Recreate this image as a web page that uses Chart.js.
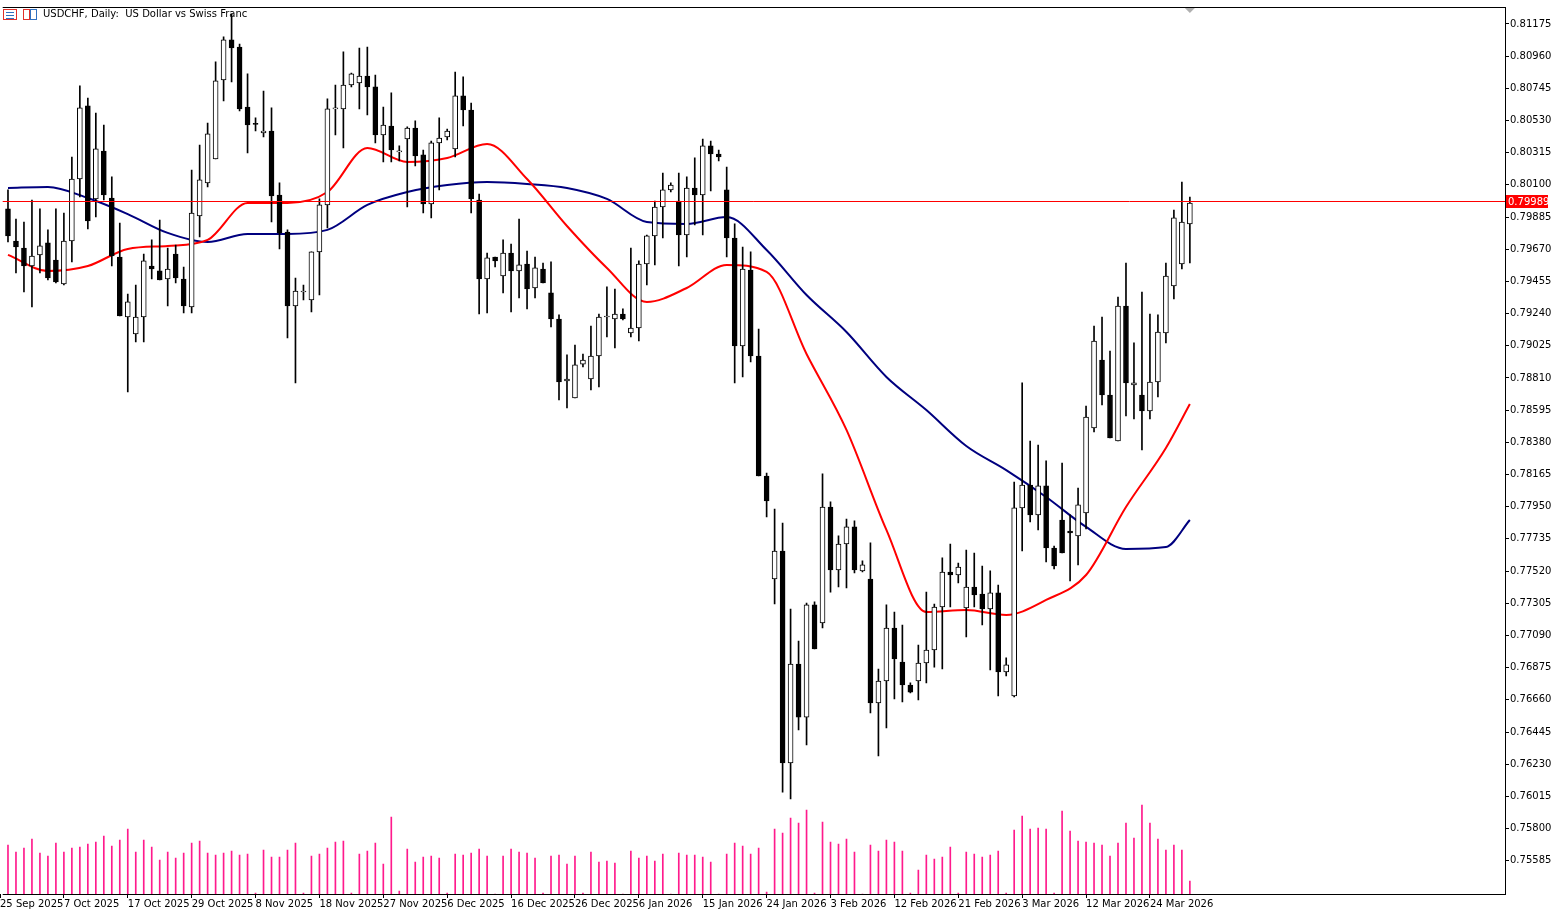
<!DOCTYPE html>
<html><head><meta charset="utf-8">
<script src="https://cdn.jsdelivr.net/npm/chart.js@4.4.1/dist/chart.umd.min.js"></script>
<style>html,body{margin:0;padding:0;background:#fff;overflow:hidden}#wrap{width:1553px;height:910px;position:relative}</style>
</head><body><div id="wrap"><canvas id="c" width="1553" height="910"></canvas></div>
<script>
const symbolTitle = "USDCHF, Daily:  US Dollar vs Swiss Franc";
const currentPrice = 0.79989;
const open = [0.79939,0.79725,0.79678,0.79558,0.79632,0.79712,0.79598,0.79438,0.79725,0.80139,
0.80627,0.80006,0.80326,0.80012,0.79618,0.79217,0.79104,0.79217,0.79558,0.79525,
0.79471,0.79638,0.79471,0.79284,0.79892,0.80113,0.80273,0.80801,0.81068,0.81021,
0.80620,0.80507,0.80447,0.80460,0.80032,0.79785,0.79291,0.79384,0.79331,0.79652,
0.79966,0.80607,0.80607,0.80767,0.80781,0.80827,0.80754,0.80433,0.80493,0.80320,
0.80406,0.80480,0.80300,0.79972,0.80380,0.80420,0.80340,0.80694,0.80600,0.79999,
0.79471,0.79618,0.79491,0.79645,0.79525,0.79571,0.79411,0.79538,0.79378,0.79204,
0.78790,0.78676,0.78903,0.78803,0.78957,0.79217,0.79204,0.79237,0.79111,0.79144,
0.79571,0.79759,0.79952,0.80066,0.79992,0.79765,0.80079,0.80032,0.80360,0.80306,
0.80066,0.79745,0.79024,0.79531,0.78957,0.78155,0.77467,0.77654,0.76238,0.76899,
0.76545,0.77294,0.77173,0.77948,0.77527,0.77701,0.77815,0.77521,0.77467,0.76639,
0.76786,0.77140,0.76913,0.76759,0.76786,0.76906,0.76993,0.77280,0.77514,0.77494,
0.77274,0.77414,0.77367,0.77267,0.77374,0.76846,0.76686,0.77942,0.78095,0.77895,
0.78089,0.77674,0.77861,0.77788,0.77755,0.77908,0.78476,0.78930,0.78696,0.78389,
0.79291,0.78763,0.78696,0.78590,0.78783,0.79111,0.79425,0.79571,0.79839];
const high = [0.80066,0.79872,0.79852,0.79999,0.79939,0.79799,0.79939,0.79912,0.80286,0.80761,
0.80680,0.80580,0.80500,0.80153,0.79845,0.79371,0.79431,0.79638,0.79732,0.79865,
0.79678,0.79698,0.79551,0.80199,0.80366,0.80513,0.80921,0.81088,0.81241,0.81041,
0.80841,0.80547,0.80727,0.80614,0.80113,0.79799,0.79478,0.79431,0.79652,0.80006,
0.80674,0.80767,0.80988,0.80847,0.81014,0.81021,0.80834,0.80620,0.80714,0.80360,
0.80487,0.80527,0.80333,0.80393,0.80547,0.80473,0.80854,0.80821,0.80647,0.80039,
0.79645,0.79618,0.79732,0.79705,0.79872,0.79658,0.79618,0.79578,0.79585,0.79231,
0.78964,0.79030,0.78970,0.79157,0.79237,0.79418,0.79404,0.79271,0.79678,0.79592,
0.79765,0.79992,0.80179,0.80113,0.80179,0.80153,0.80280,0.80406,0.80393,0.80333,
0.80219,0.79839,0.79685,0.79652,0.79137,0.78175,0.77935,0.77841,0.77267,0.77053,
0.77307,0.77314,0.78169,0.77982,0.77755,0.77868,0.77855,0.77588,0.77708,0.76866,
0.77294,0.77247,0.77160,0.76773,0.77026,0.77380,0.77300,0.77608,0.77701,0.77574,
0.77661,0.77641,0.77554,0.77521,0.77427,0.76940,0.78115,0.78777,0.78389,0.78362,
0.78256,0.77687,0.78242,0.77895,0.78075,0.78623,0.79157,0.79217,0.78990,0.79351,
0.79578,0.79044,0.79384,0.79237,0.79231,0.79578,0.79932,0.80119,0.80019];
const low = [0.79718,0.79511,0.79384,0.79284,0.79511,0.79465,0.79445,0.79431,0.79585,0.80019,
0.79805,0.79885,0.79999,0.79558,0.79224,0.78716,0.79050,0.79050,0.79471,0.79465,
0.79291,0.79445,0.79244,0.79244,0.79752,0.80086,0.80273,0.80660,0.80787,0.80594,
0.80313,0.80460,0.80420,0.79852,0.79672,0.79077,0.78777,0.79331,0.79251,0.79364,
0.79812,0.80433,0.80346,0.80754,0.80607,0.80567,0.80380,0.80253,0.80253,0.80260,
0.79952,0.80226,0.79912,0.79879,0.80066,0.80400,0.80286,0.80493,0.79912,0.79237,
0.79244,0.79551,0.79378,0.79251,0.79344,0.79271,0.79344,0.79445,0.79151,0.78663,
0.78610,0.78676,0.78883,0.78730,0.78750,0.79084,0.79010,0.79197,0.79084,0.79057,
0.79431,0.79565,0.79745,0.80052,0.79558,0.79618,0.79832,0.79765,0.80059,0.80260,
0.79618,0.78777,0.78817,0.78917,0.78155,0.77881,0.77300,0.76044,0.75998,0.76459,
0.76358,0.77000,0.77140,0.77380,0.77414,0.77407,0.77507,0.77514,0.76572,0.76285,
0.76472,0.76666,0.76646,0.76706,0.76659,0.76773,0.76879,0.76866,0.77280,0.77441,
0.77080,0.77280,0.77160,0.76859,0.76686,0.76819,0.76679,0.77654,0.77848,0.77795,
0.77581,0.77534,0.77641,0.77454,0.77561,0.77801,0.78449,0.78630,0.78409,0.78389,
0.78556,0.78536,0.78329,0.78536,0.78683,0.79044,0.79338,0.79538,0.79578];
const close = [0.79759,0.79685,0.79558,0.79625,0.79692,0.79478,0.79451,0.79725,0.80139,0.80614,
0.79859,0.80340,0.80032,0.79625,0.79224,0.79318,0.79217,0.79592,0.79538,0.79465,
0.79538,0.79478,0.79291,0.79912,0.80133,0.80440,0.80794,0.81068,0.81014,0.80607,
0.80500,0.80504,0.80460,0.80026,0.79779,0.79291,0.79391,0.79384,0.79652,0.79966,
0.80607,0.80614,0.80767,0.80841,0.80827,0.80754,0.80433,0.80500,0.80333,0.80320,
0.80480,0.80293,0.79972,0.80380,0.80413,0.80460,0.80694,0.80600,0.80006,0.79471,
0.79612,0.79592,0.79645,0.79525,0.79565,0.79404,0.79545,0.79445,0.79204,0.78783,
0.78803,0.78897,0.78930,0.78957,0.79217,0.79224,0.79237,0.79204,0.79144,0.79571,
0.79759,0.79952,0.80066,0.80099,0.79765,0.80079,0.80032,0.80360,0.80306,0.80286,
0.79745,0.79024,0.79538,0.78957,0.78155,0.77988,0.77654,0.76238,0.76899,0.76545,
0.77294,0.77000,0.77948,0.77527,0.77701,0.77815,0.77527,0.77561,0.76639,0.76786,
0.77140,0.76933,0.76759,0.76712,0.76906,0.76993,0.77280,0.77514,0.77494,0.77547,
0.77414,0.77360,0.77267,0.77374,0.76846,0.76893,0.77942,0.78095,0.77895,0.78089,
0.77674,0.77554,0.77641,0.77775,0.77962,0.78549,0.79057,0.78696,0.78409,0.79291,
0.78777,0.78777,0.78590,0.78783,0.79117,0.79491,0.79879,0.79852,0.79979];
const volume = [49,42,46,55,41,38,51,42,46,47,50,52,58,48,54,65,42,54,47,34,
42,36,41,51,53,41,39,41,43,39,40,1,44,37,37,44,51,1,38,40,
46,52,53,1,40,43,51,30,77,3,45,32,37,38,36,1,40,39,41,45,
38,0,38,45,42,41,36,1,38,39,30,38,1,42,32,33,31,0,43,36,
38,33,40,0,41,39,39,37,32,0,40,51,48,40,46,2,65,61,76,71,
84,1,72,52,50,55,42,0,49,43,54,52,43,1,24,39,35,37,47,1,
42,40,37,39,43,1,64,78,65,66,65,1,83,63,53,52,51,49,38,51,
71,56,89,71,55,44,49,44,13];
const maIdx = [0,5,10,15,20,25,30,35,40,45,50,55,60,65,70,75,80,85,90,95,100,105,110,115,120,125,130,135,140,145,148];
const maFast = [0.79632,0.79525,0.79558,0.79672,0.79692,0.79732,0.79979,0.79979,0.80052,0.80346,0.80253,0.80280,0.80373,0.80139,0.79825,0.79545,0.79318,0.79411,0.79565,0.79518,0.78970,0.78463,0.77795,0.77247,0.77260,0.77227,0.77327,0.77494,0.77948,0.78342,0.78636];
const maSlow = [0.80079,0.80086,0.80012,0.79905,0.79779,0.79718,0.79772,0.79772,0.79799,0.79966,0.80052,0.80099,0.80119,0.80106,0.80079,0.80006,0.79852,0.79839,0.79885,0.79665,0.79364,0.79117,0.78817,0.78596,0.78356,0.78195,0.78015,0.77815,0.77668,0.77681,0.77861];
const priceTicks = ["0.81175","0.80960","0.80745","0.80530","0.80315","0.80100","0.79885","0.79670","0.79455","0.79240","0.79025","0.78810","0.78595","0.78380","0.78165","0.77950","0.77735","0.77520","0.77305","0.77090","0.76875","0.76660","0.76445","0.76230","0.76015","0.75800","0.75585"];
const dateIdx = [-1,7,15,23,31,39,47,55,63,71,79,87,95,103,111,119,127,135,143];
const dateLabels = ["25 Sep 2025","7 Oct 2025","17 Oct 2025","29 Oct 2025","8 Nov 2025","18 Nov 2025","27 Nov 2025","6 Dec 2025","16 Dec 2025","26 Dec 2025","6 Jan 2026","15 Jan 2026","24 Jan 2026","3 Feb 2026","12 Feb 2026","21 Feb 2026","3 Mar 2026","12 Mar 2026","24 Mar 2026"];

const n = close.length;
const idx = Array.from({length:n},(_,i)=>i);
const wickData = idx.map(i=>({x:i,y:[low[i],high[i]]}));
const bodyData = idx.map(i=>({x:i,y:[open[i],close[i]]}));
const volData = idx.map(i=>({x:i,y:volume[i]}));
const fastData = maIdx.map((v,k)=>({x:v,y:maFast[k]}));
const slowData = maIdx.map((v,k)=>({x:v,y:maSlow[k]}));
const FONT = {family:"DejaVu Sans",size:10};

const overlay = {
  id:'overlay',
  afterDraw(chart){
    const {ctx,chartArea:a,scales} = chart;
    const y = Math.round(scales.y.getPixelForValue(currentPrice));
    ctx.save();
    ctx.globalAlpha=1;
    ctx.strokeStyle='rgb(255,0,0)';ctx.lineWidth=1;
    ctx.beginPath();ctx.moveTo(a.left,y+0.5);ctx.lineTo(a.right,y+0.5);ctx.stroke();
    ctx.fillStyle='rgb(255,0,0)';
    ctx.fillRect(a.right+1,y-6,42,13);
    ctx.fillStyle='#fff';ctx.font='10px "DejaVu Sans"';ctx.textBaseline='middle';ctx.textAlign='left';
    ctx.fillText(currentPrice.toFixed(5),a.right+3,y+1);
    ctx.fillStyle='#000';
    ctx.fillRect(a.left,a.top,a.right-a.left+1,1);
    ctx.fillRect(a.right,a.top,1,a.bottom-a.top+1);
    ctx.fillRect(a.left,a.bottom,a.right-a.left+1,1);
    ctx.fillStyle='#000';ctx.font='10px "DejaVu Sans"';ctx.textAlign='left';
    ctx.fillText(symbolTitle,43,a.top+7);
    ctx.strokeStyle='#e0302a';ctx.strokeRect(3.5,a.top+2.5,13,10);
    ctx.strokeStyle='#3070c0';
    ctx.beginPath();for(let k=0;k<3;k++){ctx.moveTo(6,a.top+5.5+k*3);ctx.lineTo(14,a.top+5.5+k*3);}ctx.stroke();
    ctx.strokeStyle='#e0302a';ctx.strokeRect(23.5,a.top+2.5,6,10);
    ctx.strokeStyle='#3070c0';ctx.strokeRect(30.5,a.top+2.5,6,10);
    const tx = scales.x.getPixelForValue(n-1);
    ctx.fillStyle='#b0b0b0';ctx.beginPath();ctx.moveTo(tx-5,a.top+1);ctx.lineTo(tx+5,a.top+1);ctx.lineTo(tx,a.top+6);ctx.fill();
    ctx.restore();
  }
};

new Chart(document.getElementById('c'),{
  data:{datasets:[
    {type:'bar',data:volData,yAxisID:'yv',backgroundColor:'#ff1a8c',barThickness:1,grouped:false,order:5},
    {type:'line',data:slowData,borderColor:'#00007f',borderWidth:2,pointRadius:0,cubicInterpolationMode:'monotone',order:4},
    {type:'line',data:fastData,borderColor:'#ff0000',borderWidth:2,pointRadius:0,cubicInterpolationMode:'monotone',order:3},
    {type:'bar',data:wickData,backgroundColor:'#000',barThickness:1,grouped:false,order:2},
    {type:'bar',data:bodyData,grouped:false,order:1,barThickness:5,minBarLength:1,borderSkipped:false,borderWidth:1,borderColor:'#000',
      backgroundColor:c=>{const i=c.dataIndex;return close[i]>=open[i]?'#fff':'#000';}}
  ]},
  options:{
    animation:false,responsive:false,devicePixelRatio:1,
    layout:{padding:{top:1,left:0,right:0,bottom:0}},
    plugins:{legend:{display:false},tooltip:{enabled:false}},
    scales:{
      x:{type:'linear',min:-0.6625,max:187.4625,offset:false,bounds:'ticks',
        grid:{display:true,drawOnChartArea:false,offset:false,color:'#000',tickLength:4},border:{display:false},
        afterBuildTicks:s=>{s.ticks=dateIdx.map(v=>({value:v}));},
        afterFit:s=>{s.height=16;},
        ticks:{autoSkip:false,maxRotation:0,align:'start',padding:0,color:'#000',font:FONT,
          callback:v=>{const k=dateIdx.indexOf(v);return k>=0?dateLabels[k]:'';}}},
      y:{position:'right',min:0.75363,max:0.81288,
        grid:{display:true,drawOnChartArea:false,color:'#000',tickLength:4},border:{display:false},
        afterBuildTicks:s=>{s.ticks=priceTicks.map(t=>({value:parseFloat(t)}));},
        afterFit:s=>{s.width=48;},
        ticks:{autoSkip:false,padding:1,color:'#000',font:FONT,
          callback:v=>{const k=priceTicks.findIndex(t=>Math.abs(parseFloat(t)-v)<1e-7);return k>=0?priceTicks[k]:'';}}},
      yv:{display:false,min:0,max:887}
    }
  },
  plugins:[overlay]
});
</script></body></html>
